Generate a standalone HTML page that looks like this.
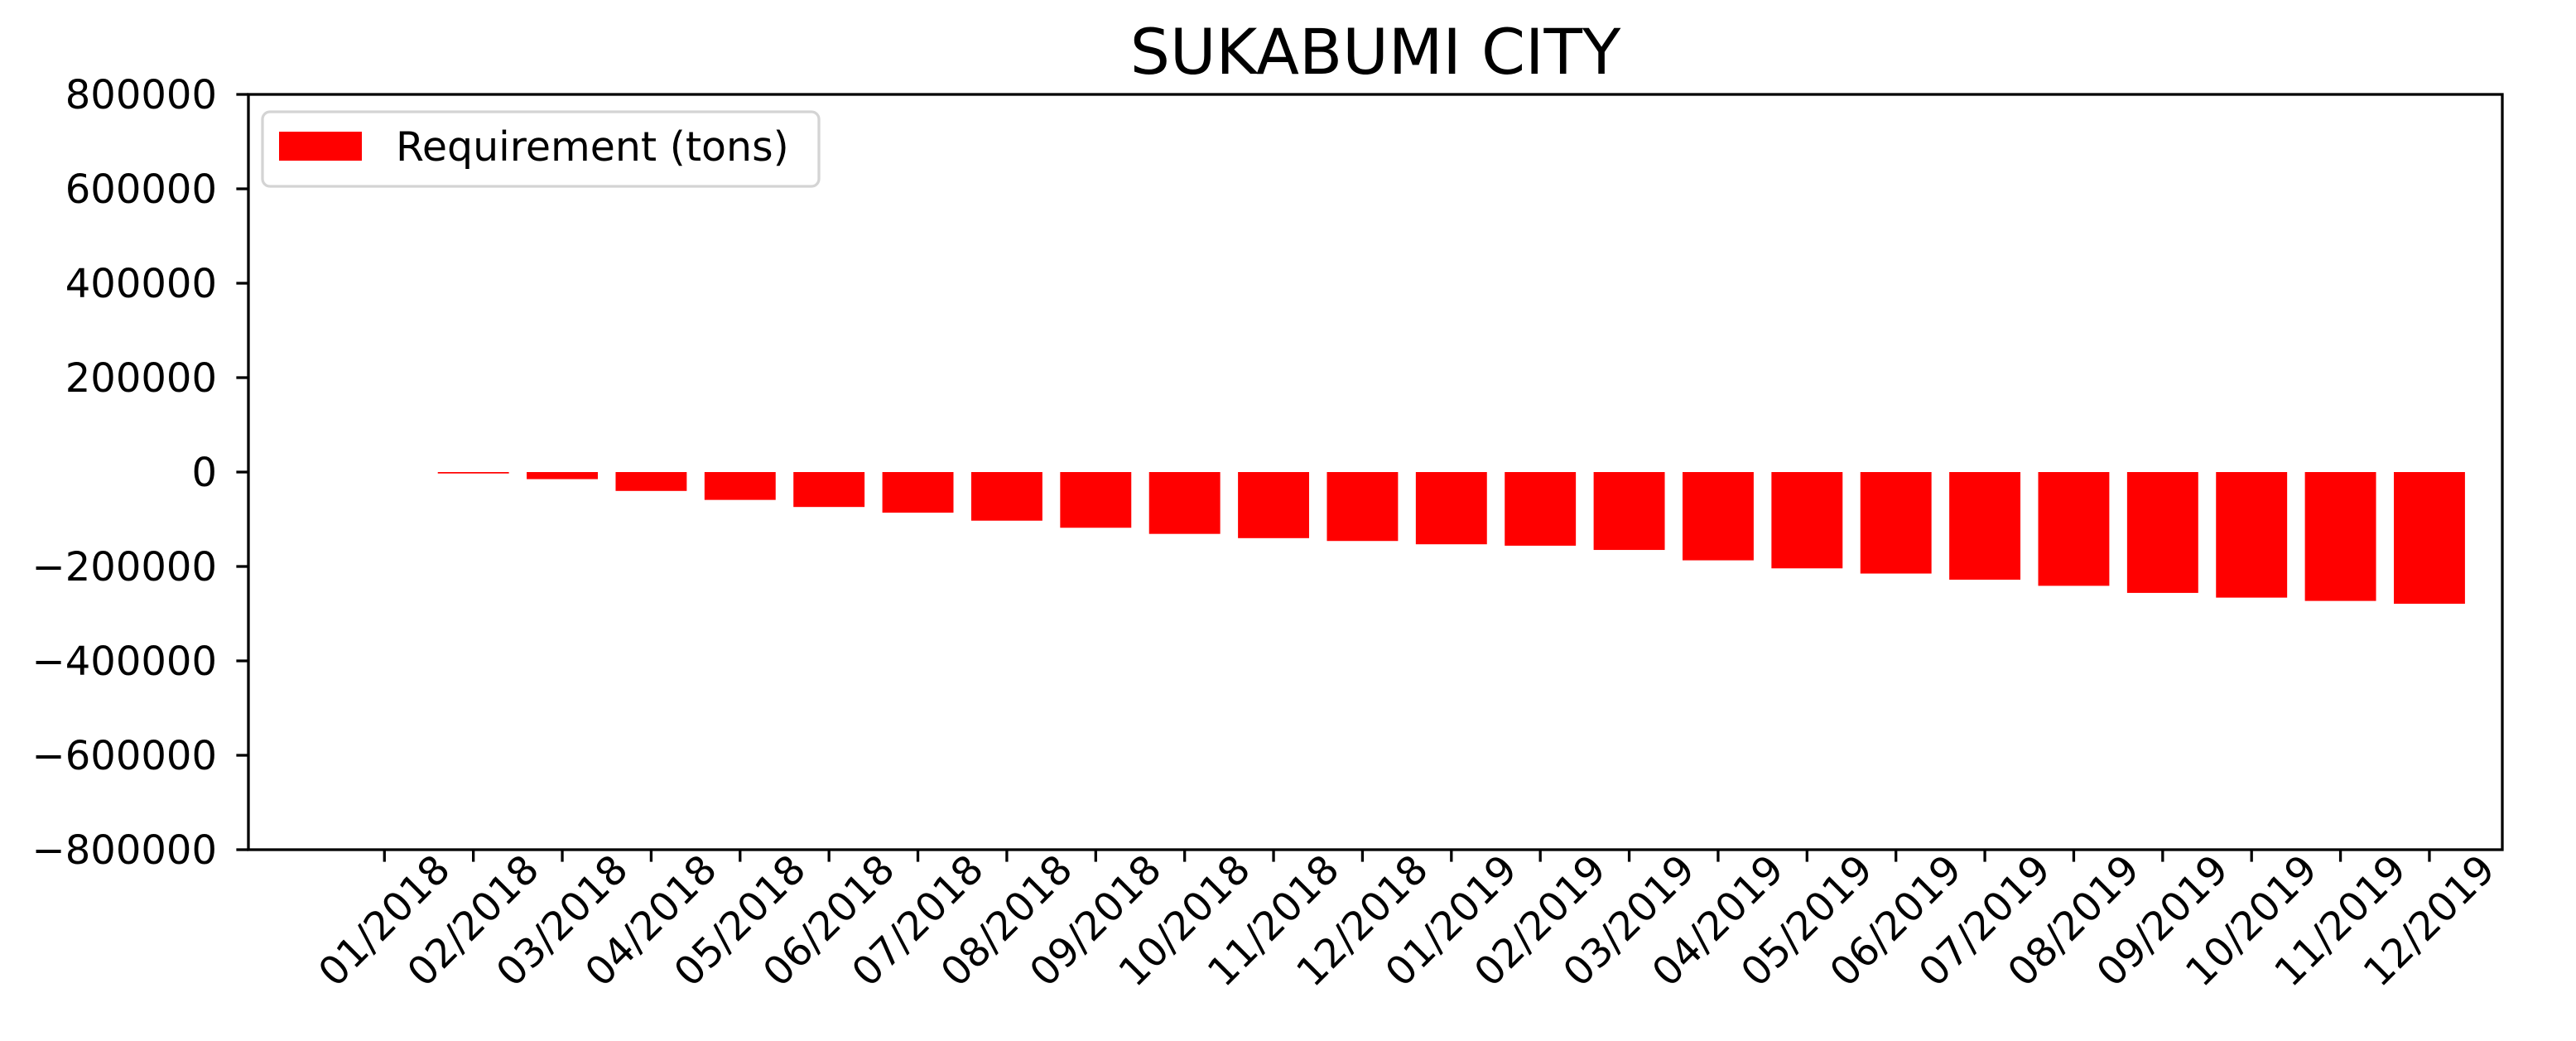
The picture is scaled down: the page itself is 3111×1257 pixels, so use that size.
<!DOCTYPE html>
<html><head><meta charset="utf-8"><style>
html,body{margin:0;padding:0;background:#fff;}
svg{display:block;font-family:"DejaVu Sans","Liberation Sans",sans-serif;}
</style></head><body>
<svg id="chart" width="3111" height="1257" viewBox="0 0 3111 1257">
<rect width="3111" height="1257" fill="#fff"/>
<g id="bars"></g>
<g id="axes"></g>
<text x="1661" y="89" font-size="76" text-anchor="middle" fill="#000">SUKABUMI CITY</text>
<g>
<rect x="317" y="135" width="672" height="90" rx="9" fill="#fff" fill-opacity="0.8" stroke="#d4d4d4" stroke-width="3.3"/>
<rect x="337" y="159" width="100" height="35" fill="#ff0000"/>
<text x="478" y="194" font-size="49" fill="#000">Requirement (tons)</text>
</g>
</svg>
<script>
const categories = ["01/2018","02/2018","03/2018","04/2018","05/2018","06/2018","07/2018","08/2018","09/2018","10/2018","11/2018","12/2018","01/2019","02/2019","03/2019","04/2019","05/2019","06/2019","07/2019","08/2019","09/2019","10/2019","11/2019","12/2019"];
const requirement = [0,-3000,-15000,-40000,-59000,-74000,-86000,-103000,-118000,-131000,-140000,-146000,-153000,-156000,-165000,-187000,-204000,-215000,-228000,-241000,-256000,-266000,-273000,-279000];
const yTicks = [800000,600000,400000,200000,0,-200000,-400000,-600000,-800000];

const L=300,R=3022,T=114,B=1026;
const xMin=-1.53,xMax=23.82,yMin=-800000,yMax=800000;
const NS="http://www.w3.org/2000/svg";
function xs(i){return L+(i-xMin)/(xMax-xMin)*(R-L);}
function ys(v){return B-(v-yMin)/(yMax-yMin)*(B-T);}
const bars=document.getElementById('bars'), axes=document.getElementById('axes');
function mk(tag,attrs,parent){const e=document.createElementNS(NS,tag);for(const k in attrs)e.setAttribute(k,attrs[k]);parent.appendChild(e);return e;}
const bw=(xs(1)-xs(0))*0.8;
requirement.forEach((v,i)=>{
  const y0=ys(0),y1=ys(v);
  const r=mk('rect',{x:xs(i)-bw/2,y:Math.min(y0,y1),width:bw,height:Math.abs(y1-y0),fill:'#ff0000'},bars);
  
  
});
const frame=mk('rect',{x:L,y:T,width:R-L,height:B-T,fill:'none',stroke:'#000','stroke-width':3.3},axes);


yTicks.forEach(t=>{
  const y=ys(t);
  const tk=mk('line',{x1:L-14.6,x2:L,y1:y,y2:y,stroke:'#000','stroke-width':3.3},axes);
  
  
  const tx=mk('text',{x:L-38,y:y+17,'font-size':48,'text-anchor':'end',fill:'#000'},axes);
  tx.textContent=(t<0?'\u2212'+(-t):String(t));
  
  
});
categories.forEach((c,i)=>{
  const x=xs(i);
  const tk=mk('line',{x1:x,x2:x,y1:B,y2:B+14.6,stroke:'#000','stroke-width':3.3},axes);
  
  
  const cy=1112;
  const tx=mk('text',{x:x,y:cy,'font-size':48,'text-anchor':'middle','dominant-baseline':'central',fill:'#000',transform:'rotate(-45 '+x+' '+cy+')'},axes);
  tx.textContent=c;
  
  
});
</script>
</body></html>
